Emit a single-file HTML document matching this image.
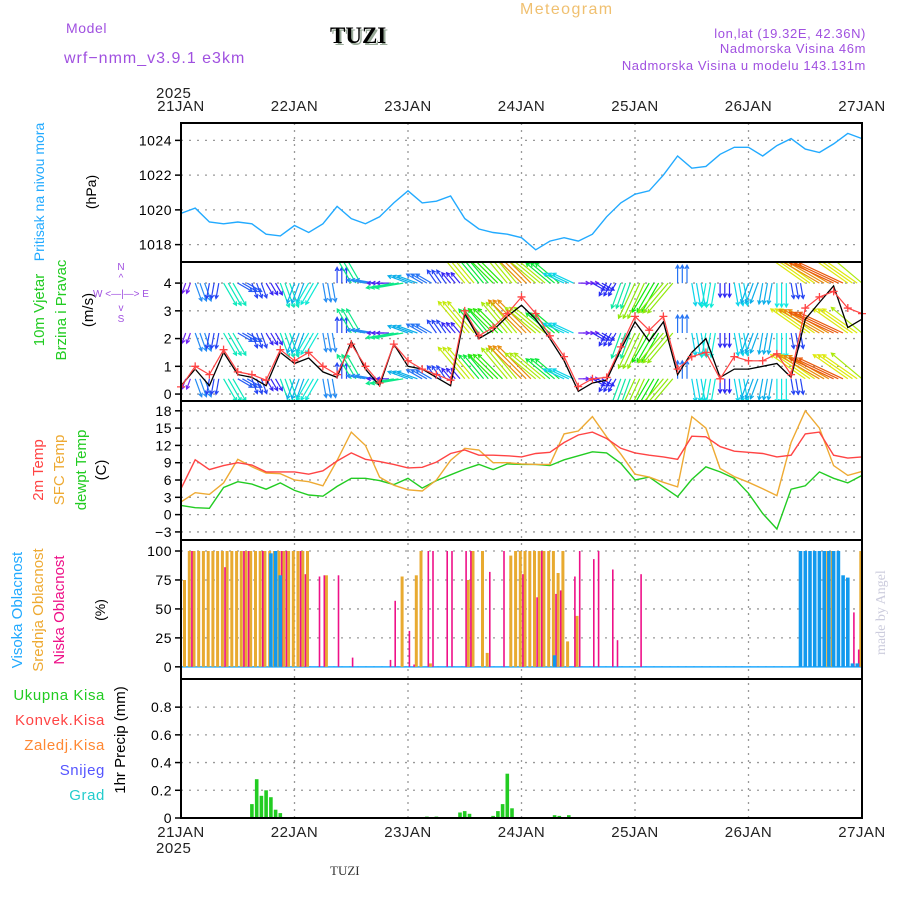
<!DOCTYPE html>
<html><head><meta charset="utf-8"><style>
html,body{margin:0;padding:0;background:#fff}
svg{display:block;font-family:"Liberation Sans",sans-serif}
</style></head><body>
<svg id="svg" xmlns="http://www.w3.org/2000/svg" width="900" height="900" viewBox="0 0 900 900">
<defs><clipPath id="wclip"><rect x="181" y="263" width="681" height="137"/></clipPath></defs>
<g>
<text x="66" y="33" font-size="14" fill="#a050e0" letter-spacing="0.6">Model</text>
<text x="64" y="63" font-size="16" fill="#a050e0" letter-spacing="1">wrf−nmm_v3.9.1  e3km</text>
<text x="330" y="43" font-size="23" font-weight="bold" font-family="Liberation Serif,serif" fill="#9a9" transform="translate(2,2)">TUZI</text>
<text x="330" y="43" font-size="23" font-weight="bold" font-family="Liberation Serif,serif" fill="#000">TUZI</text>
<text x="520" y="14" font-size="16" fill="#f0c070" letter-spacing="1.4">Meteogram</text>
<text x="866" y="38" font-size="13" fill="#a050e0" letter-spacing="0.6" text-anchor="end">lon,lat (19.32E, 42.36N)</text>
<text x="866" y="53" font-size="13" fill="#a050e0" letter-spacing="0.6" text-anchor="end">Nadmorska Visina 46m</text>
<text x="866" y="70" font-size="13" fill="#a050e0" letter-spacing="0.6" text-anchor="end">Nadmorska Visina u modelu 143.131m</text>
<text x="156" y="98" font-size="15" fill="#222" letter-spacing="0.5">2025</text>
<text x="156" y="853" font-size="15" fill="#222" letter-spacing="0.5">2025</text>
<text x="330" y="875" font-size="13" font-family="Liberation Serif,serif" fill="#333">TUZI</text>
<text transform="translate(885,655) rotate(-90)" font-size="14" font-family="Liberation Serif,serif" fill="#ccd">made by Angel</text>
</g>
<g>
<text transform="translate(44,192) rotate(-90)" text-anchor="middle" font-size="14" fill="#22aaff">Pritisak na nivou mora</text>
<text transform="translate(96,192) rotate(-90)" text-anchor="middle" font-size="14" fill="#000">(hPa)</text>
<text transform="translate(44,310) rotate(-90)" text-anchor="middle" font-size="15" fill="#22cc22">10m Vjetar</text>
<text transform="translate(66,310) rotate(-90)" text-anchor="middle" font-size="15" fill="#22cc22">Brzina i Pravac</text>
<text transform="translate(93,310) rotate(-90)" text-anchor="middle" font-size="15" fill="#000">(m/s)</text>
<g fill="#a050e0" font-size="10">
<text x="121" y="270" text-anchor="middle">N</text><text x="121" y="281" text-anchor="middle">^</text>
<text x="121" y="297" text-anchor="middle">W  &lt;—|—&gt;  E</text>
<text x="121" y="311" text-anchor="middle">v</text><text x="121" y="322" text-anchor="middle">S</text>
</g>
<text transform="translate(43,470) rotate(-90)" text-anchor="middle" font-size="15" fill="#ff4444">2m Temp</text>
<text transform="translate(64,470) rotate(-90)" text-anchor="middle" font-size="15" fill="#eeaa33">SFC Temp</text>
<text transform="translate(86,470) rotate(-90)" text-anchor="middle" font-size="15" fill="#22cc22">dewpt Temp</text>
<text transform="translate(106,470) rotate(-90)" text-anchor="middle" font-size="15" fill="#000">(C)</text>
<text transform="translate(22,610) rotate(-90)" text-anchor="middle" font-size="15" fill="#22aaff">Visoka Oblacnost</text>
<text transform="translate(43,610) rotate(-90)" text-anchor="middle" font-size="15" fill="#eeaa33">Srednja Oblacnost</text>
<text transform="translate(64,610) rotate(-90)" text-anchor="middle" font-size="15" fill="#ee1188">Niska Oblacnost</text>
<text transform="translate(105,610) rotate(-90)" text-anchor="middle" font-size="14" fill="#000">(%)</text>
<g font-size="15" text-anchor="end" letter-spacing="0.6">
<text x="105" y="700" fill="#22cc22">Ukupna  Kisa</text>
<text x="105" y="725" fill="#ff4444">Konvek.Kisa</text>
<text x="105" y="750" fill="#ff8833">Zaledj.Kisa</text>
<text x="105" y="775" fill="#5555ff">Snijeg</text>
<text x="105" y="800" fill="#22cccc">Grad</text>
</g>
<text transform="translate(125,740) rotate(-90)" text-anchor="middle" font-size="15" fill="#000">1hr Precip (mm)</text>
</g>
<g id="plots"></g>
</svg>
<script>
// ---- data (3-hourly from 21JAN 00Z, 49 points) ----
const dayLabels = ["21JAN","22JAN","23JAN","24JAN","25JAN","26JAN","27JAN"];
const pressure = [1019.8,1020.1,1019.3,1019.2,1019.3,1019.2,1018.6,1018.5,1019.1,1018.7,1019.2,1020.2,1019.5,1019.2,1019.6,1020.4,1021.1,1020.4,1020.5,1020.8,1019.5,1018.9,1018.7,1018.6,1018.4,1017.7,1018.2,1018.4,1018.2,1018.6,1019.6,1020.4,1020.9,1021.1,1022.0,1023.1,1022.4,1022.5,1023.2,1023.6,1023.6,1023.1,1023.7,1024.1,1023.5,1023.3,1023.8,1024.4,1024.1];
const pressureTicks = [1018,1020,1022,1024];
const windSpeed = [0.26,1.0,0.7,1.6,0.8,0.7,0.5,1.6,1.2,1.5,1.0,0.7,1.8,1.0,0.4,1.8,1.2,0.9,0.7,0.5,3.0,2.1,2.4,2.9,3.5,2.9,2.1,1.35,0.27,0.55,0.6,1.7,2.8,2.3,2.8,0.9,1.35,1.5,0.55,1.35,1.2,1.2,1.45,0.7,3.1,3.5,3.7,3.1,2.9];
const windMean = [0.3,0.9,0.3,1.5,0.7,0.6,0.3,1.5,1.1,1.3,0.8,0.6,1.9,0.9,0.3,1.8,1.0,0.9,0.6,0.3,2.9,2.0,2.3,2.8,3.2,2.7,2.0,1.2,0.1,0.4,0.5,1.6,2.6,1.9,2.6,0.7,1.5,2.0,0.6,0.9,0.9,1.0,1.1,0.6,2.7,3.3,3.9,2.4,2.7];
const windDir = [20,340,10,330,300,340,330,340,20,30,350,180,150,100,90,80,110,120,145,140,140,140,135,140,135,130,130,115,270,300,30,20,25,30,40,180,350,10,0,350,20,10,0,350,125,120,115,125,130];
const windTicks = [0,1,2,3,4];
const temp2m = [4.5,9.5,7.8,8.5,9.0,8.6,7.4,7.4,7.4,7.0,7.6,9.3,10.7,9.6,9.2,8.7,8.1,8.2,9.1,10.6,11.2,10.3,10.3,10.2,10.0,10.6,10.8,12.5,13.8,14.3,13.2,11.5,10.7,10.3,10.0,9.6,13.6,13.5,11.8,11.0,10.8,10.6,10.0,10.3,14.0,14.3,10.3,9.8,10.0];
const tempSfc = [2.2,3.8,3.5,5.5,9.6,8.3,7.2,7.1,6.0,5.7,5.0,9.4,14.3,12.0,6.5,5.1,4.3,4.1,6.0,9.4,11.5,11.2,9.0,9.0,8.8,8.7,8.7,14.0,14.5,17.0,13.5,10.5,7.0,6.5,5.6,4.8,17.0,15.0,8.0,6.6,5.6,4.5,3.3,12.5,18.0,15.0,8.5,6.8,7.5];
const dewpt = [1.6,1.2,1.1,4.7,5.7,5.3,4.4,5.5,4.2,3.4,3.2,4.9,6.3,6.3,5.9,5.2,6.3,4.6,5.9,6.9,7.9,8.7,7.8,8.8,8.7,8.7,8.5,9.5,10.2,10.9,10.7,8.9,6.0,6.5,4.8,3.1,6.1,8.3,7.4,6.3,3.7,0.2,-2.5,4.4,5.0,7.4,6.3,5.5,6.8];
const tempTicks = [-3,0,3,6,9,12,15,18];
// ---- hourly cloud (hour index, percent) ----
const cloudMid = [[1,75],[2,100],[3,100],[4,100],[5,100],[6,100],[7,100],[8,100],[9,100],[10,100],[11,100],[12,100],[13,100],[14,100],[15,100],[16,100],[17,100],[18,100],[19,100],[20,100],[21,100],[22,100],[23,100],[24,100],[25,100],[26,100],[27,100],[31,79],[47,78],[50,79],[51,100],[53,3],[61,75],[62,100],[64,100],[65,12],[70,96],[71,100],[72,100],[73,100],[74,100],[75,100],[76,100],[77,100],[78,100],[79,100],[80,81],[81,100],[82,22],[84,44],[137,100],[138,100],[144,100]];
const cloudLow = [[2,100],[9,86],[13,100],[14,100],[17,100],[21,100],[22,100],[25,100],[26,80],[29,78],[30,79],[33,79],[36,8],[44,6],[45,57],[48,31],[49,2],[52,100],[53,100],[56,100],[57,100],[60,100],[61,100],[65,82],[68,100],[72,80],[75,60],[76,100],[79,63],[80,66],[83,78],[84,100],[87,93],[88,100],[91,84],[92,23],[97,80],[142,47],[143,15]];
const cloudHigh = [[19,98],[20,100],[21,79],[79,10],[131,100],[132,100],[133,100],[134,100],[135,100],[136,100],[137,100],[138,100],[139,100],[140,79],[141,77],[142,3],[143,3]];
const cloudTicks = [0,25,50,75,100];
const precip = [[15,0.10],[16,0.28],[17,0.16],[18,0.20],[19,0.15],[20,0.06],[21,0.035],[52,0.01],[54,0.01],[59,0.04],[60,0.05],[61,0.03],[66,0.015],[67,0.05],[68,0.10],[69,0.32],[70,0.07],[79,0.02],[80,0.015],[82,0.02]];
const precipTicks = ["0","0.2","0.4","0.6","0.8"];

// ---- layout ----
const X0=181, X1=862, HOURS=144;
const panels = {
  p:{top:123,bot:262,min:1017.0,max:1025.0},
  w:{top:262,bot:401,min:-0.25,max:4.76},
  t:{top:401,bot:540,min:-4.4,max:19.7},
  c:{top:540,bot:679,min:-10.5,max:109.5},
  r:{top:679,bot:818,min:0,max:1.003}
};
const NS="http://www.w3.org/2000/svg";
const root=document.getElementById('plots');
function xh(h){return X0+(X1-X0)*h/HOURS;}
function xk(k){return xh(k*3);}
function yv(p,v){const P=panels[p];return P.bot-(v-P.min)/(P.max-P.min)*(P.bot-P.top);}
function mk(tag,attrs,parent){const e=document.createElementNS(NS,tag);for(const a in attrs)e.setAttribute(a,attrs[a]);(parent||root).appendChild(e);return e;}

const gridG=mk('g',{});


function hgrid(p,ticks){
  ticks.forEach(t=>{
    const v=parseFloat(t); const y=yv(p,v);
    const ln=mk('line',{x1:X0,x2:X1,y1:y,y2:y,stroke:'#999','stroke-width':1.3,'stroke-dasharray':'2,6'},gridG);
    
    
    const tk=mk('line',{x1:X0-6,x2:X0,y1:y,y2:y,stroke:'#000','stroke-width':1.5},gridG);
    
    
    const tx=mk('text',{x:X0-9,y:y+5,'font-size':14,'text-anchor':'end',fill:'#000','letter-spacing':0.5},gridG);
    tx.textContent=String(t).replace('-','−');
    
    
  });
}
hgrid('p',pressureTicks);
hgrid('w',windTicks);
hgrid('t',tempTicks);
hgrid('c',cloudTicks);
hgrid('r',precipTicks);
for(let d=0;d<dayLabels.length;d++){
  const x=xh(d*24);
  if(d>0&&d<6){
    const vl=mk('line',{x1:x,x2:x,y1:123,y2:818,stroke:'#999','stroke-width':1.3,'stroke-dasharray':'2,5'},gridG);
    
    
  }
  const t1=mk('text',{x:x,y:111,'font-size':15,'text-anchor':'middle',fill:'#222','letter-spacing':0.5},gridG);
  t1.textContent=dayLabels[d];
  
  
  const t2=mk('text',{x:x,y:837,'font-size':15,'text-anchor':'middle',fill:'#222','letter-spacing':0.5},gridG);
  t2.textContent=dayLabels[d];
  
  
}

function line(arr,p,color,w,name){
  const pts=arr.map((v,k)=>xk(k).toFixed(1)+','+yv(p,v).toFixed(1)).join(' ');
  const pl=mk('polyline',{points:pts,fill:'none',stroke:color,'stroke-width':w});
  
  
}
line(pressure,'p','#22aaff',1.4,'pressure-line');

function windColor(s){let h=280-s*70; if(h<0)h+=360; return 'hsl('+h+',90%,'+(h>200?55:48)+'%)';}
const arrowG=mk('g',{'clip-path':'url(#wclip)'});


const rows=[4.0,2.2,0.55];
windDir.forEach((dir,k)=>{
  const s=windSpeed[k]; const to=(dir+180)*Math.PI/180; const L=8+11*s;
  const col=windColor(s);
  rows.forEach(rv=>{
    for(let j=0;j<3;j++){
      if(k===48&&j>0)continue;
      const x=xk(k)+j*4.7, y=yv('w',rv);
      const dx=Math.sin(to)*L, dy=-Math.cos(to)*L;
      const ex=x+dx, ey=y+dy;
      const a=Math.atan2(dy,dx), hl=4;
      const d='M'+x.toFixed(1)+','+y.toFixed(1)+'L'+ex.toFixed(1)+','+ey.toFixed(1)+
        'M'+(ex-hl*Math.cos(a-0.5)).toFixed(1)+','+(ey-hl*Math.sin(a-0.5)).toFixed(1)+'L'+ex.toFixed(1)+','+ey.toFixed(1)+
        'L'+(ex-hl*Math.cos(a+0.5)).toFixed(1)+','+(ey-hl*Math.sin(a+0.5)).toFixed(1);
      const ar=mk('path',{d:d,stroke:col,'stroke-width':1.2,fill:'none'},arrowG);
      
      
    }
  });
});
line(windMean,'w','#000',1.3,'wind-mean-line');
line(windSpeed,'w','#ff4444',1.2,'wind-speed-line');
windSpeed.forEach((v,k)=>{
  const x=xk(k),y=yv('w',v);
  const m=mk('path',{d:`M${x-4},${y}H${x+4}M${x},${y-4}V${y+4}`,stroke:'#ff4444','stroke-width':1.3});
  
  
});

line(dewpt,'t','#22cc22',1.4,'dewpt-line');
line(tempSfc,'t','#eeaa33',1.4,'sfc-temp-line');
line(temp2m,'t','#ff4444',1.4,'temp2m-line');

function bars(list,p,color,w,off,name){
  list.forEach(([h,v])=>{
    const x=xh(h)+off, y0=yv(p,0), y=yv(p,v);
    const r=mk('rect',{x:(x-w/2).toFixed(1),y:y.toFixed(1),width:w,height:Math.max(0.5,y0-y).toFixed(1),fill:color});
    
    
  });
}
const baseL=mk('line',{x1:X0,x2:X1,y1:yv('c',0),y2:yv('c',0),stroke:'#22aaff','stroke-width':1.5});


bars(cloudMid,'c','#e8aa30',3,-1.2,'mid-cloud-bar');
bars(cloudLow,'c','#ee1188',1.6,1.4,'low-cloud-bar');
bars(cloudHigh,'c','#1199ee',3.6,0,'high-cloud-bar');
bars(precip,'r','#22cc22',3.6,0,'precip-bar');

Object.keys(panels).forEach(p=>{
  const P=panels[p];
  const f=mk('rect',{x:X0,y:P.top,width:X1-X0,height:P.bot-P.top,fill:'none',stroke:'#000','stroke-width':2});
  
  
});
</script>
</body></html>
